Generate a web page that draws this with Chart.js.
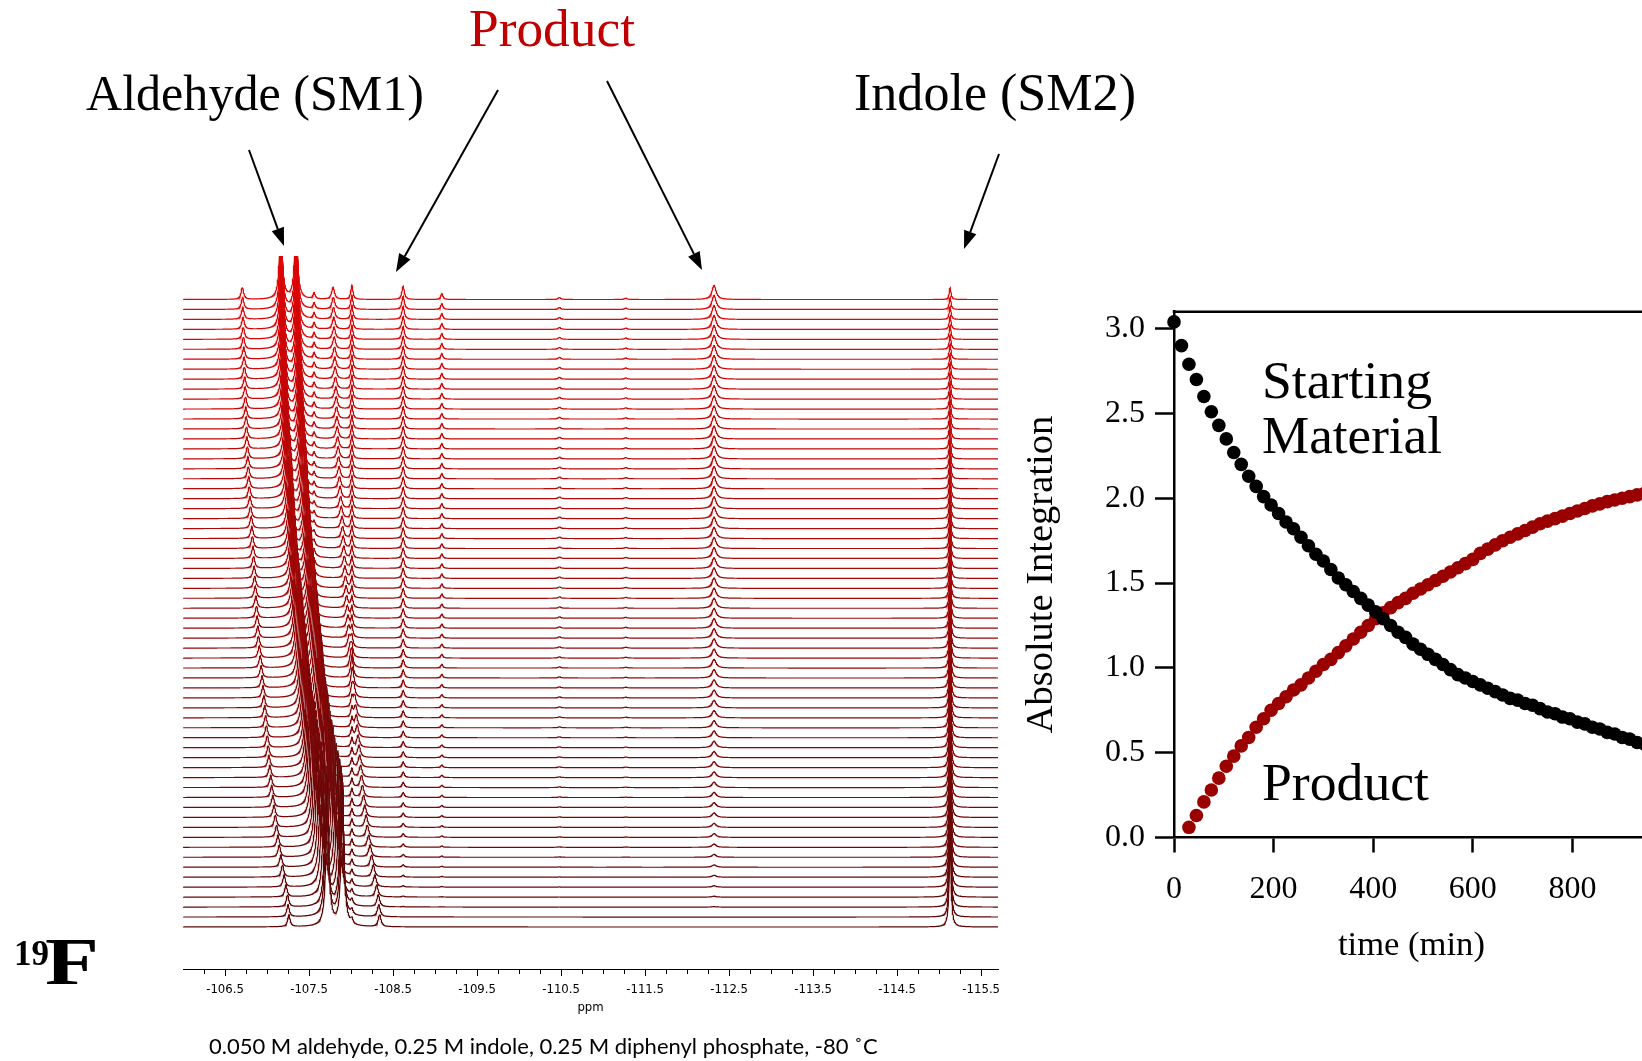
<!DOCTYPE html>
<html>
<head>
<meta charset="utf-8">
<title>19F NMR reaction monitoring</title>
<script src="https://cdn.jsdelivr.net/npm/chart.js@4.4.1/dist/chart.umd.min.js"></script>
<style>
  html, body { margin: 0; padding: 0; background: #fff; overflow: hidden; width: 1642px; height: 1061px; }
  #spec { position: absolute; left: 0; top: 0; }
  #kin { position: absolute; left: 1000px; top: 0; }
</style>
</head>
<body>
<canvas id="spec" width="1642" height="1061"></canvas>
<canvas id="kin" width="700" height="1061"></canvas>
<script>
// ---- kinetics: one 19F spectrum every 15 min ----
const sampleTimes = [0,15,30,45,60,75,90,105,120,135,150,165,180,195,210,225,240,255,270,285,300,315,330,345,360,375,390,405,420,435,450,465,480,495,510,525,540,555,570,585,600,615,630,645,660,675,690,705,720,735,750,765,780,795,810,825,840,855,870,885,900,915,930,945];
const startingMaterial = [3.04,2.90,2.79,2.70,2.60,2.51,2.43,2.35,2.27,2.20,2.13,2.07,2.01,1.96,1.91,1.86,1.82,1.77,1.72,1.67,1.63,1.58,1.53,1.49,1.45,1.41,1.37,1.33,1.29,1.25,1.21,1.18,1.14,1.11,1.08,1.05,1.02,0.99,0.96,0.94,0.92,0.90,0.88,0.86,0.84,0.82,0.81,0.79,0.78,0.76,0.74,0.73,0.71,0.70,0.68,0.67,0.65,0.64,0.62,0.61,0.59,0.58,0.56,0.55];
const productTimes = [30,45,60,75,90,105,120,135,150,165,180,195,210,225,240,255,270,285,300,315,330,345,360,375,390,405,420,435,450,465,480,495,510,525,540,555,570,585,600,615,630,645,660,675,690,705,720,735,750,765,780,795,810,825,840,855,870,885,900,915,930,945];
const productValues = [0.06,0.13,0.21,0.28,0.35,0.42,0.48,0.54,0.59,0.65,0.70,0.75,0.79,0.83,0.87,0.90,0.94,0.98,1.02,1.05,1.09,1.13,1.17,1.21,1.25,1.29,1.325,1.355,1.385,1.41,1.44,1.465,1.49,1.515,1.54,1.565,1.59,1.615,1.64,1.675,1.70,1.725,1.75,1.77,1.79,1.81,1.83,1.85,1.865,1.88,1.895,1.91,1.925,1.94,1.955,1.967,1.98,1.99,2.00,2.01,2.02,2.03];
const timeTicks = [0,200,400,600,800];
const integrationTicks = [0,0.5,1.0,1.5,2.0,2.5,3.0];

// ---- 19F spectra ----
// drift of the aldehyde-derived signals in each spectrum (ppm, downfield)
const aldehydeDrift = [0,0.010,0.016,0.035,0.057,0.076,0.096,0.115,0.131,0.147,0.161,0.177,0.191,0.205,0.216,0.227,0.238,0.246,0.257,0.268,0.278,0.287,0.298,0.308,0.319,0.330,0.341,0.352,0.362,0.370,0.378,0.385,0.393,0.400,0.407,0.414,0.420,0.427,0.434,0.441,0.448,0.457,0.464,0.471,0.478,0.483,0.489,0.494,0.500,0.505,0.509,0.513,0.517,0.521,0.526,0.530,0.534,0.537,0.541,0.543,0.546,0.549,0.551,0.554];
// signals: shift in the first spectrum (ppm), line width (ppm), drifting or not,
// amplitude = constant part + part per unit SM integration + part per unit product integration
const signalShift  = [-107.26,-107.72,-107.90,-108.34,-107.56,-108.01,-108.62,-109.08,-110.48,-111.27,-112.32,-115.13];
const signalWidth  = [0.035,0.040,0.040,0.040,0.030,0.030,0.035,0.030,0.040,0.040,0.060,0.025];
const signalDrifts = [1,1,1,1,0,0,0,0,0,0,0,0];
const signalConst  = [12,70,70,12,0,5,0,0,0,0,0,-8];
const signalPerSM  = [0,25,25,0,0,0,0,0,0,0,0,36];
const signalPerProduct = [0,0,0,0,3,4.5,6.5,3,1,0.7,7,0];
const ppmLabels = [-106.5,-107.5,-108.5,-109.5,-110.5,-111.5,-112.5,-113.5,-114.5,-115.5];

const PPM_LEFT = -106.0, PPM_RIGHT = -115.7, PPM_STEP = 0.003;
const STACK_STEP = 9.96;

function lorentz(x, c, w) { const d = 2 * (x - c) / w; return 1 / (1 + d * d); }

const productByTime = {};
productTimes.forEach((t, i) => { productByTime[t] = productValues[i]; });

const nTraces = sampleTimes.length;
const grid = [];
for (let x = PPM_RIGHT; x <= PPM_LEFT + 1e-9; x += PPM_STEP) grid.push(x);

function traceColor(i) {
  const f = i / (nTraces - 1);
  const r = Math.round(92 + (224 - 92) * f);
  const g = Math.round(8 + (6 - 8) * f);
  return `rgb(${r},${g},${g})`;
}

const specDatasets = [];
for (let i = 0; i < nTraces; i++) {
  const sm = startingMaterial[i];
  const pr = productByTime[sampleTimes[i]] || 0;
  const peaks = signalShift.map((c, k) => ({
    c: c + (signalDrifts[k] ? aldehydeDrift[i] : 0),
    w: signalWidth[k],
    h: signalConst[k] + signalPerSM[k] * sm + signalPerProduct[k] * pr
  }));
  const base = i * STACK_STEP;
  const pts = grid.map(x => {
    let y = base;
    for (const p of peaks) y += p.h * lorentz(x, p.c, p.w);
    return { x, y };
  });
  specDatasets.push({
    data: pts,
    borderColor: traceColor(i),
    borderWidth: 1.2,
    pointRadius: 0,
    order: nTraces - 1 - i,
    tension: 0
  });
}

const minorPpm = [];
for (let v = -106.25; v >= -115.5; v -= 0.25) minorPpm.push(+v.toFixed(2));

function fitText(ctx, text, x, y, width, family, weight, color) {
  ctx.font = `${weight} 100px ${family}`;
  const w = ctx.measureText(text).width;
  ctx.font = `${weight} ${(100 * width / w).toFixed(2)}px ${family}`;
  ctx.fillStyle = color;
  ctx.textAlign = 'left';
  ctx.textBaseline = 'alphabetic';
  ctx.fillText(text, x, y);
}

function arrow(ctx, x1, y1, x2, y2) {
  const a = Math.atan2(y2 - y1, x2 - x1);
  const len = 18, half = 6.5;
  const bx = x2 - len * Math.cos(a), by = y2 - len * Math.sin(a);
  ctx.strokeStyle = '#000'; ctx.fillStyle = '#000'; ctx.lineWidth = 2;
  ctx.beginPath(); ctx.moveTo(x1, y1); ctx.lineTo(bx, by); ctx.stroke();
  ctx.beginPath();
  ctx.moveTo(x2, y2);
  ctx.lineTo(bx + half * Math.sin(a), by - half * Math.cos(a));
  ctx.lineTo(bx - half * Math.sin(a), by + half * Math.cos(a));
  ctx.closePath(); ctx.fill();
}

const SERIF = "'Liberation Serif', 'Times New Roman', serif";

const specLabels = {
  id: 'specLabels',
  afterDraw(chart) {
    const ctx = chart.ctx;
    ctx.save();
    fitText(ctx, 'Aldehyde (SM1)', 86, 110, 338, SERIF, 'normal', '#000');
    fitText(ctx, 'Product', 469, 46, 166, SERIF, 'normal', '#c00000');
    fitText(ctx, 'Indole (SM2)', 854, 110, 282, SERIF, 'normal', '#000');
    arrow(ctx, 249, 150, 284, 246);
    arrow(ctx, 498, 90, 396, 272);
    arrow(ctx, 607, 81, 702, 270);
    arrow(ctx, 999, 154, 964, 249);
    // minor ticks on the ppm axis
    const xs = chart.scales.x, yb = chart.chartArea.bottom;
    ctx.strokeStyle = '#000'; ctx.lineWidth = 1;
    minorPpm.forEach(v => {
      const px = Math.round(xs.getPixelForValue(v)) + 0.5;
      ctx.beginPath(); ctx.moveTo(px, yb); ctx.lineTo(px, yb + 5); ctx.stroke();
    });
    // nucleus label
    ctx.fillStyle = '#000';
    ctx.textAlign = 'left'; ctx.textBaseline = 'alphabetic';
    ctx.font = `bold 35px ${SERIF}`;
    ctx.fillText('19', 14, 965);
    ctx.save();
    ctx.translate(45, 984);
    ctx.scale(1.3, 1);
    ctx.font = `bold 68px ${SERIF}`;
    ctx.fillText('F', 0, 0);
    ctx.restore();
    fitText(ctx, '0.050 M aldehyde, 0.25 M indole, 0.25 M diphenyl phosphate, -80 \u02DAC', 209, 1054, 669, "Lato, 'Open Sans', sans-serif", 'normal', '#000');
    ctx.restore();
  }
};

new Chart(document.getElementById('spec'), {
  type: 'line',
  data: { datasets: specDatasets },
  options: {
    responsive: false,
    animation: false,
    devicePixelRatio: 1,
    events: [],
    parsing: false,
    normalized: true,
    layout: { padding: { left: 183, right: 644, top: 256, bottom: 22 } },
    plugins: { legend: { display: false }, tooltip: { enabled: false } },
    scales: {
      x: {
        type: 'linear',
        reverse: true,
        min: PPM_RIGHT,
        max: PPM_LEFT,
        afterFit(s) { s.height = 70; },
        afterBuildTicks(s) { s.ticks = ppmLabels.map(v => ({ value: v })); },
        ticks: {
          autoSkip: false, maxRotation: 0, padding: 6, color: '#000',
          font: { family: "'DejaVu Sans Condensed', 'DejaVu Sans', sans-serif", size: 13 },
          callback: v => v.toFixed(1)
        },
        grid: { drawOnChartArea: false, drawTicks: true, tickLength: 7, color: '#000', tickWidth: 1 },
        border: { color: '#000', width: 1 },
        title: { display: true, text: 'ppm', color: '#000', padding: { top: 0, bottom: 24 },
                 font: { family: "'DejaVu Sans Condensed', 'DejaVu Sans', sans-serif", size: 13 } }
      },
      y: { display: false, min: -42, max: 671 }
    }
  },
  plugins: [specLabels]
});

// ---- integration vs time ----
const kinLabels = {
  id: 'kinLabels',
  afterDraw(chart) {
    const ctx = chart.ctx, a = chart.chartArea;
    ctx.save();
    ctx.strokeStyle = '#000'; ctx.lineWidth = 2.5;
    ctx.beginPath(); ctx.moveTo(a.left - 1.25, a.top); ctx.lineTo(a.right, a.top); ctx.stroke();
    fitText(ctx, 'Starting', 262, 398, 170, SERIF, 'normal', '#000');
    fitText(ctx, 'Material', 262, 453, 180, SERIF, 'normal', '#000');
    fitText(ctx, 'Product', 262, 800, 167, SERIF, 'normal', '#000');
    fitText(ctx, 'time (min)', 338, 955, 147, SERIF, 'normal', '#000');
    ctx.restore();
  }
};

new Chart(document.getElementById('kin'), {
  type: 'scatter',
  data: {
    datasets: [
      { label: 'Starting material', data: sampleTimes.map((t, i) => ({ x: t, y: startingMaterial[i] })),
        backgroundColor: '#000', borderWidth: 0, pointRadius: 6.8, clip: false },
      { label: 'Product', data: productTimes.map((t, i) => ({ x: t, y: productValues[i] })),
        backgroundColor: '#9a0000', borderWidth: 0, pointRadius: 6.8, clip: false }
    ]
  },
  options: {
    responsive: false,
    animation: false,
    devicePixelRatio: 1,
    events: [],
    layout: { padding: { left: 0, right: 28, top: 311.7, bottom: 0 } },
    plugins: { legend: { display: false }, tooltip: { enabled: false } },
    scales: {
      x: {
        type: 'linear', min: 0, max: 1000,
        afterFit(s) { s.height = 223.5; },
        afterBuildTicks(s) { s.ticks = timeTicks.map(v => ({ value: v })); },
        ticks: { color: '#000', padding: 18, maxRotation: 0, font: { family: SERIF, size: 32 } },
        grid: { drawOnChartArea: false, tickLength: 15, tickWidth: 2.5, color: '#000' },
        border: { color: '#000', width: 2.5 },
        title: { display: false }
      },
      y: {
        type: 'linear', min: 0, max: 3.1,
        afterFit(s) { s.width = 174; },
        afterBuildTicks(s) { s.ticks = integrationTicks.map(v => ({ value: v })); },
        ticks: { color: '#000', padding: 10, font: { family: SERIF, size: 32 }, callback: v => v.toFixed(1) },
        grid: { drawOnChartArea: false, tickLength: 19, tickWidth: 2.5, color: '#000' },
        border: { color: '#000', width: 2.5 },
        title: { display: true, text: 'Absolute Integration', color: '#000', padding: { top: 19, bottom: 0 },
                 font: { family: SERIF, size: 38.5 } }
      }
    }
  },
  plugins: [kinLabels]
});
</script>
</body>
</html>
